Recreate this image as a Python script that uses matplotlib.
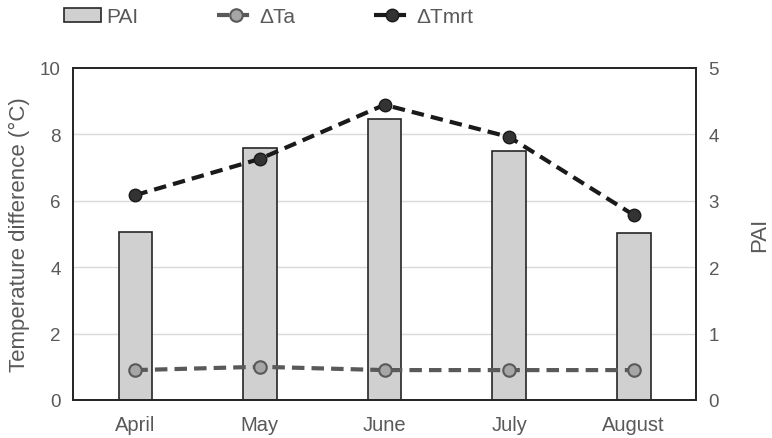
import matplotlib.pyplot as plt
import numpy as np

plt.rcParams['font.family'] = ['Liberation Sans', 'DejaVu Sans']

months = ['April', 'May', 'June', 'July', 'August']
pai = [2.53, 3.79, 4.23, 3.75, 2.51]
d_ta = [0.9, 1.0, 0.9, 0.9, 0.9]
d_tmrt = [6.17, 7.26, 8.89, 7.92, 5.57]

txt = '#595959'
x = np.arange(len(months))

fig = plt.figure(figsize=(7.72, 4.39), dpi=100)
ax = fig.add_axes([0.0946, 0.0866, 0.807, 0.7564])
ax2 = ax.twinx()

# bars on the secondary (PAI) axis, drawn behind the lines
ax2.set_zorder(1)
ax.set_zorder(2)
ax.patch.set_visible(False)

bars = ax2.bar(x, pai, width=0.27, color='#d0d0d0', edgecolor='#262626', linewidth=1.2, label='PAI')
l1, = ax.plot(x, d_ta, '--o', color='#595959', lw=3, ms=9, mfc='#a6a6a6', mec='#595959', mew=1.5,
              dashes=(3, 1.7), label='ΔTa')
l2, = ax.plot(x, d_tmrt, '--o', color='#1a1a1a', lw=3, ms=9, mfc='#333333', mec='#1a1a1a',
              dashes=(3, 1.7), label='ΔTmrt')

ax.set_xlim(-0.5, 4.5)
ax.set_ylim(0, 10)
ax2.set_ylim(0, 5)
ax.set_yticks(range(0, 11, 2))
ax2.set_yticks(range(0, 6))
ax.set_xticks(x)
ax.set_xticklabels(months)

for yv in range(1, 5):
    ax2.axhline(yv, color='#d9d9d9', lw=1, zorder=0)

for a in (ax, ax2):
    for s in a.spines.values():
        s.set_color('#262626')
        s.set_linewidth(1.3)
    a.tick_params(length=0, labelsize=13.5, colors=txt, pad=9)
ax.tick_params(axis='x', pad=11, labelsize=14.5)

ax.set_ylabel('Temperature difference (°C)', fontsize=16, color=txt, labelpad=7)
ax2.set_ylabel('PAI', fontsize=16, color=txt, labelpad=22)

fig.legend([bars, l1, l2], ['PAI', 'ΔTa', 'ΔTmrt'], loc='upper left', ncol=3,
           bbox_to_anchor=(0.072, 1.0), borderaxespad=0, frameon=False, fontsize=15,
           labelcolor=txt, columnspacing=3.75, handlelength=1.8, handletextpad=0.25)

fig.savefig('out.png', dpi=100)
